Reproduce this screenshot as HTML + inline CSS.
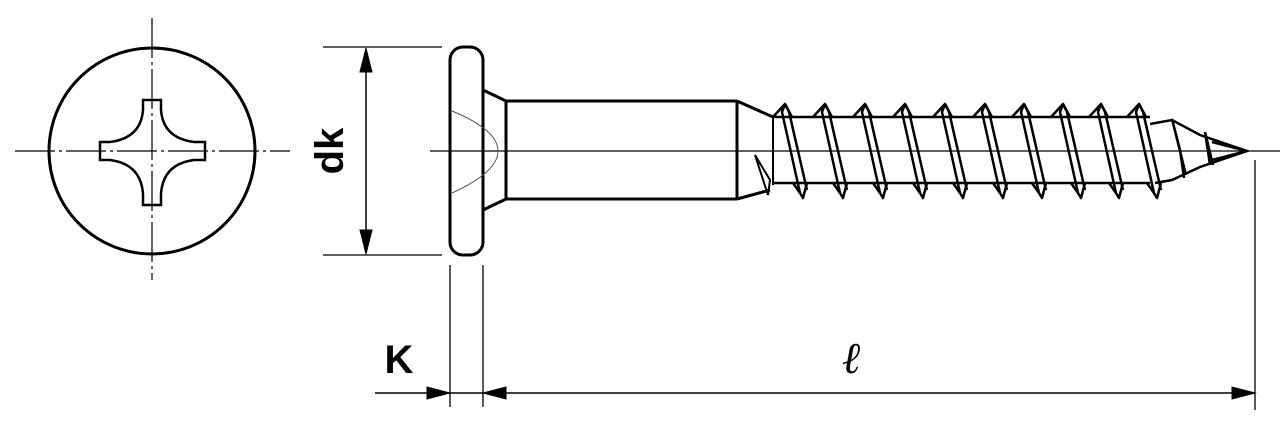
<!DOCTYPE html>
<html><head><meta charset="utf-8"><style>html,body{margin:0;padding:0;background:#fff}svg{display:block}</style></head>
<body>
<svg width="1287" height="443" viewBox="0 0 1287 443" xmlns="http://www.w3.org/2000/svg">
<defs>
<g id="th" stroke="#000" fill="none" stroke-width="2.5" stroke-linejoin="round">
<path d="M-12,117 L0,104 L7,117"/>
<path d="M0,104 L-3,112 L15,193 L18,198 L22,183"/>
<path d="M0,104 L4,112 L22,190"/>
<path d="M5,114 L21,186" stroke-width="1.5"/>
<path d="M8,183 L15,193"/>
</g>
</defs>
<g stroke="#000" fill="none">
<line x1="15" y1="151" x2="290" y2="151" stroke-width="1.2" stroke-dasharray="40 4 3 4"/>
<line x1="152" y1="18" x2="152" y2="280" stroke-width="1.2" stroke-dasharray="40 4 3 4"/>
<circle cx="152" cy="151" r="103" stroke-width="3"/>
<path d="M143,100 H161 V110 Q163,138 194,142 H205 V160 H194 Q163,164 161,194 V205 H143 V194 Q141,164 110,160 H100 V142 H110 Q141,138 143,110 Z" stroke-width="2.5"/>
<line x1="323" y1="47" x2="442" y2="47" stroke-width="1.3"/>
<line x1="323" y1="255" x2="442" y2="255" stroke-width="1.3"/>
<line x1="366" y1="50" x2="366" y2="252" stroke-width="1.5"/>
<path d="M366,48 L360,72 L372,72 Z M366,254 L360,230 L372,230 Z" fill="#000"/>
<line x1="430" y1="151" x2="1280" y2="151" stroke-width="1.2"/>
<rect x="450" y="47" width="33" height="208" rx="13" stroke-width="3"/>
<path d="M452,111 Q498,130 498,151 Q498,172 452,193" stroke-width="1" stroke="#555"/>
<path d="M483,90 L506,101 M483,210 L506,199 M506,101 V199" stroke-width="3"/>
<path d="M506,101 H737 M506,199 H737 M737,101 V199 M737,101 L773,117 M737,199 L770,190" stroke-width="3"/>
<path d="M773,117 V185" stroke-width="2"/>
<path d="M773,117 H1150 M773,183 H1150" stroke-width="2.5"/>
<path d="M755,155 L770,180 L768,195 Z" stroke-width="2"/>
<g stroke-width="2.5">
<path d="M1150,124 L1172,120 L1200,135 L1247,151 L1200,167 L1172,180 L1155,183"/>
<path d="M1172,119 L1180,150 L1184,178 M1172,119 L1186,175"/>
<path d="M1205,132 L1210,165 M1205,132 L1213,165"/>
<path d="M1212,142 L1247,151 L1212,160"/>
</g>
<line x1="450" y1="265" x2="450" y2="407" stroke-width="1.3"/>
<line x1="483" y1="265" x2="483" y2="407" stroke-width="1.3"/>
<line x1="1255" y1="160" x2="1255" y2="410" stroke-width="1.3"/>
<line x1="375" y1="393" x2="1255" y2="393" stroke-width="1.5"/>
<path d="M450,393 L427,387 L427,399 Z M483,393 L506,387 L506,399 Z M1255,393 L1232,387 L1232,399 Z" fill="#000"/>
</g>
<use href="#th" x="785" y="0"/>
<use href="#th" x="825" y="0"/>
<use href="#th" x="865" y="0"/>
<use href="#th" x="905" y="0"/>
<use href="#th" x="945" y="0"/>
<use href="#th" x="985" y="0"/>
<use href="#th" x="1024" y="0"/>
<use href="#th" x="1063" y="0"/>
<use href="#th" x="1101" y="0"/>
<use href="#th" x="1139" y="0"/>
<text x="0" y="0" transform="translate(343,151) rotate(-90)" text-anchor="middle" font-family="Liberation Sans, sans-serif" font-weight="bold" font-size="40" fill="#000">dk</text>
<text x="399" y="373" text-anchor="middle" font-family="Liberation Sans, sans-serif" font-weight="bold" font-size="40" fill="#000">K</text>
<text x="852" y="373" text-anchor="middle" font-family="Liberation Serif, serif" font-style="italic" font-weight="bold" font-size="44" fill="#000">ℓ</text>
</svg>
</body></html>
